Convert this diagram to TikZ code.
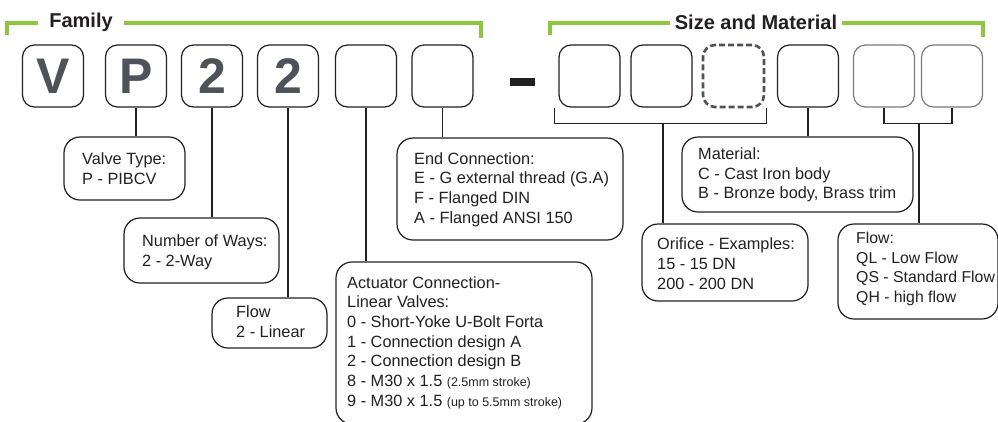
\documentclass[tikz,border=0pt]{standalone}
\usepackage{fontspec}
\setmainfont{Liberation Sans}
\definecolor{famgreen}{HTML}{8DC63F}
\definecolor{lettergray}{HTML}{4D5359}
\definecolor{ink}{HTML}{231F20}
\definecolor{boxgray}{HTML}{7A7A7A}
\begin{document}
\begin{tikzpicture}[x=1pt, y=-1pt,
    every node/.style={text=ink},
    digit/.style={draw=ink, line width=1.2pt, rounded corners=12pt, minimum width=61pt, minimum height=62pt, inner sep=0pt, font=\bfseries\fontsize{50}{50}\selectfont, text=lettergray},
    greybox/.style={digit, draw=boxgray},
    dashbox/.style={digit, draw=lettergray, line width=2.6pt, dash pattern=on 6pt off 3pt},
    callout/.style={draw=ink, line width=1.2pt, rounded corners=16pt, inner sep=0pt},
    note/.style={align=left, inner sep=0pt, anchor=west, font=\fontsize{16.3}{19.7}\selectfont},
    heading/.style={fill=white, font=\bfseries\fontsize{20}{20}\selectfont, text=ink, inner ysep=2pt},
    bracket/.style={draw=famgreen, line width=4pt, line join=miter},
    link/.style={draw=ink, line width=1.3pt}]

    \useasboundingbox (0,0) rectangle (998,421);

    % green brackets
    \draw[bracket] (7,35) -- (7,22.5) -- (481,22.5) -- (481,38);
    \node[heading, inner xsep=11pt] (famlabel) at (81,22.5) {Family};
    \draw[bracket] (550,35) -- (550,22.5) -- (983,22.5) -- (983,37);
    \node[heading, inner xsep=5pt] (sizelabel) at (756,22.5) {Size and Material};

    % code letters
    \node[digit] (v) at (53,76) {V};
    \node[digit] (p) at (136,76) {P};
    \node[digit] (ways) at (212,76) {2};
    \node[digit] (flow) at (288,76) {2};
    \node[digit] (act) at (366,76) {};
    \node[digit] (conn) at (442.5,76) {};

    \node[fill=ink, minimum width=25pt, minimum height=8pt, inner sep=0pt] (dash) at (522.5,82) {};

    \node[digit] (r1) at (589.5,76) {};
    \node[digit] (r2) at (661.5,76) {};
    \node[dashbox] (r3) at (733.5,76) {};
    \node[digit] (r4) at (808,76) {};
    \node[greybox] (r5) at (884,76) {};
    \node[greybox] (r6) at (952,76) {};

    % callouts
    \node[callout, minimum width=121pt, minimum height=63pt] (valvebox) at (124.5,168.5) {};
    \node[note] (valvetxt) at (82,168.5) {Valve Type:\\P - PIBCV};

    \node[callout, minimum width=155pt, minimum height=65pt] (waysbox) at (201.5,250.5) {};
    \node[note] (waystxt) at (142,252) {Number of Ways:\\2 - 2-Way};

    \node[callout, minimum width=115pt, minimum height=50pt] (flowbox) at (269.5,323) {};
    \node[note] (flowtxt) at (236,322) {Flow\\2 - Linear};

    \node[callout, minimum width=256pt, minimum height=162pt] (actbox) at (464,343) {};
    \node[note] (acttxt) at (347,342.5) {Actuator Connection-\\Linear Valves:\\0 - Short-Yoke U-Bolt Forta\\1 - Connection design A\\2 - Connection design B\\8 - M30 x 1.5 {\fontsize{12.5}{12.5}\selectfont(2.5mm stroke)}\\9 - M30 x 1.5 {\fontsize{12.5}{12.5}\selectfont(up to 5.5mm stroke)}};

    \node[callout, minimum width=226pt, minimum height=102pt] (connbox) at (510,189) {};
    \node[note] (conntxt) at (414,189.5) {End Connection:\\E - G external thread (G.A)\\F - Flanged DIN\\A - Flanged ANSI 150};

    \node[callout, minimum width=166pt, minimum height=77pt] (orifbox) at (725,262.5) {};
    \node[note] (oriftxt) at (657,263.5) {Orifice - Examples:\\15 - 15 DN\\200 - 200 DN};

    \node[callout, minimum width=231pt, minimum height=75pt] (matbox) at (797.5,174.5) {};
    \node[note] (mattxt) at (698,175) {Material:\\C - Cast Iron body\\B - Bronze body, Brass trim};

    \node[callout, minimum width=160pt, minimum height=95pt] (ratebox) at (918,271.5) {};
    \node[note, font=\fontsize{15.8}{19.7}\selectfont] (ratetxt) at (856,269) {Flow:\\QL - Low Flow\\QS - Standard Flow\\QH - high flow};

    % connectors
    \draw[link] (p.south) -- (p.south |- valvebox.north);
    \draw[link] (ways.south) -- (ways.south |- waysbox.north);
    \draw[link] (flow.south) -- (flow.south |- flowbox.north);
    \draw[link] (act.south) -- (act.south |- actbox.north);
    \draw[link] (conn.south) -- (conn.south |- connbox.north);

    \draw[link] ([xshift=-4pt]r1.south west) -- ++(0,16) -| ([xshift=1pt]r3.south east);
    \coordinate (orifdrop) at (663,123);
    \draw[link] (orifdrop) -- (orifdrop |- orifbox.north);

    \draw[link] (r4.south) -- (r4.south |- matbox.north);

    \draw[link] (r5.south) -- ++(0,16) -| (r6.south);
    \coordinate (ratedrop) at (919,123);
    \draw[link] (ratedrop) -- (ratedrop |- ratebox.north);
\end{tikzpicture}
\end{document}
